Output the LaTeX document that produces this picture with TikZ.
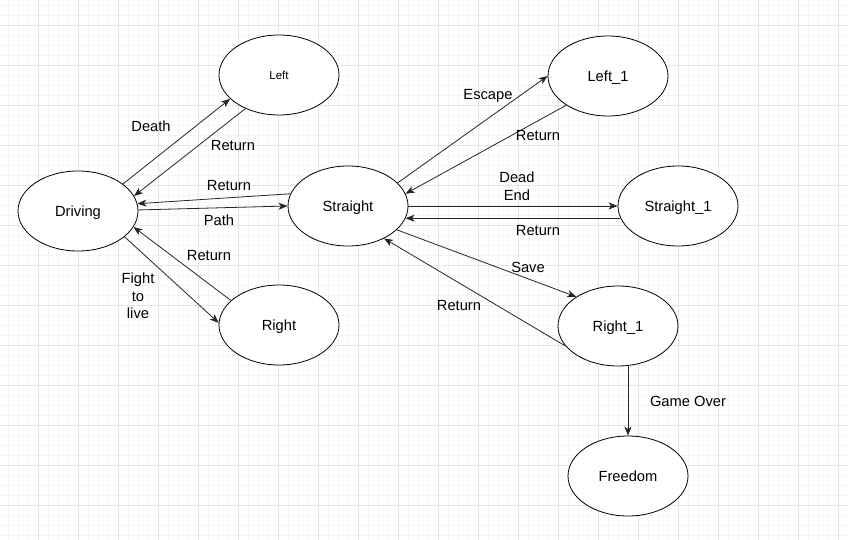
\documentclass[tikz,border=0pt]{standalone}
\usepackage{fontspec}
\setmainfont{Liberation Sans}
\usetikzlibrary{shapes.geometric,arrows.meta}
\begin{document}
\begin{tikzpicture}[x=1pt,y=-1pt,
  state/.style={draw=black,line width=0.8pt,ellipse,fill=white,minimum width=120pt,minimum height=80pt,inner sep=0pt,text height=10.5pt,text depth=0pt,font=\fontsize{14.7}{16}\selectfont},
  lbl/.style={font=\fontsize{14.7}{17.5}\selectfont,align=center,inner sep=0pt},
  arr/.style={draw=black!85,line width=0.8pt,-{Stealth[length=9pt,width=7pt,inset=2.5pt]}},
  minorgrid/.style={draw=black!4,line width=0.6pt},
  majorgrid/.style={draw=black!10,line width=0.7pt}]
\useasboundingbox (0,0) rectangle (848,540);
\fill[white] (0,0) rectangle (848,540);
\foreach \x in {8,18,...,848} \draw[minorgrid] (\x,0) -- (\x,540);
\foreach \y in {5,15,...,540} \draw[minorgrid] (0,\y) -- (848,\y);
\foreach \x in {38,78,...,848} \draw[majorgrid] (\x,0) -- (\x,540);
\foreach \y in {25,65,...,540} \draw[majorgrid] (0,\y) -- (848,\y);

\node[state] (drv) at (78,211) {Driving};
\node[state,text height=8.3pt] (lft) at (279,75) {\fontsize{11.6}{13}\selectfont Left};
\node[state] (rgt) at (279,325) {Right};
\node[state] (str) at (348,206) {Straight};
\node[state] (lone) at (608,76) {Left\_1};
\node[state] (sone) at (678,206) {Straight\_1};
\node[state] (rone) at (618,326) {Right\_1};
\node[state] (fre) at (628,476) {Freedom};

\draw[arr] (drv.31) -- (lft.206);
\draw[arr] (lft.225) -- (drv.15);
\draw[arr] (str.168) -- (drv.7);
\draw[arr] (drv.1) -- (str.180);
\draw[arr] (drv.-29) -- (rgt.178);
\draw[arr] (rgt.153) -- (drv.-16);
\draw[arr] (str.25) -- (lone.180);
\draw[arr] (lone.215) -- (str.12);
\draw[arr] (str.0) -- (sone.180);
\draw[arr] (sone.192) -- (str.-12);
\draw[arr] (str.-26) -- (rone.145);
\draw[arr] (rone.201) -- (str.-42);
\draw[arr] (rone.south -| fre.north) -- (fre.north);

\node[lbl] (l1) at (151,126) {Death};
\node[lbl] (l2) at (233,146) {Return};
\node[lbl] (l3) at (229,186) {Return};
\node[lbl] (l4) at (219,220) {Path};
\node[lbl] (l5) at (138,296) {Fight\\to\\live};
\node[lbl] (l6) at (209,256) {Return};
\node[lbl] (l7) at (488,96) {Escape};
\node[lbl] (l8) at (538,136) {Return};
\node[lbl] (l9) at (517,186) {Dead\\End};
\node[lbl] (l10) at (538,231) {Return};
\node[lbl] (l11) at (528,267) {Save};
\node[lbl] (l12) at (459,306) {Return};
\node[lbl] (l13) at (688,401) {Game Over};
\end{tikzpicture}
\end{document}
